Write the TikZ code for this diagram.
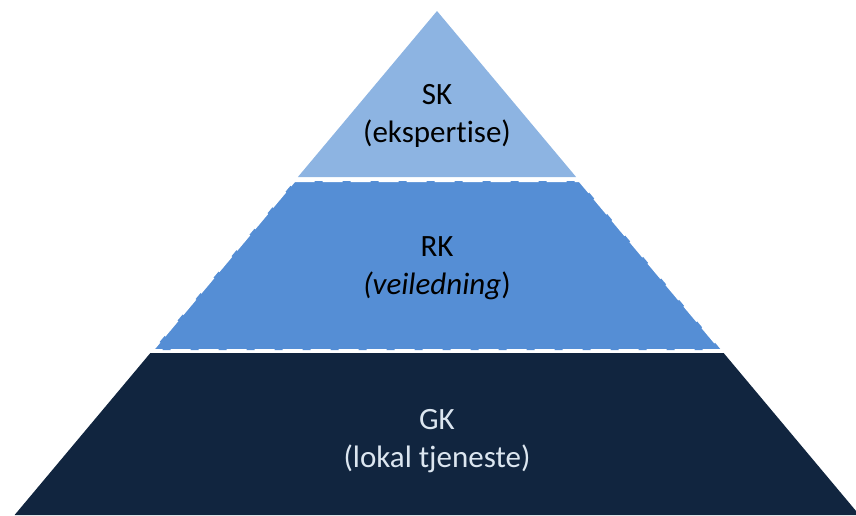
\documentclass[tikz,border=0pt]{standalone}
\usepackage{fontspec}
\setmainfont{Carlito}[Ligatures=NoCommon]
\usetikzlibrary{calc}
\definecolor{skblue}{HTML}{8DB4E2}
\definecolor{rkblue}{HTML}{558ED5}
\definecolor{gknavy}{HTML}{11253F}
\definecolor{gktext}{HTML}{DCE6F0}

\begin{document}
\begin{tikzpicture}[x=1pt, y=-1pt, every node/.style={font=\fontsize{31}{38}\selectfont}]
        \tikzstyle{tier} = [draw=none]
        \tikzstyle{label} = [align=center, inner sep=0pt]
        \useasboundingbox (0,0) rectangle (856,515);
        \coordinate (apex) at (437,11);
        \coordinate (baseL) at (14.6,515);
        \coordinate (baseR) at (859.4,515);
        % top tier
        \fill[tier, skblue] (apex) -- ($(apex)!0.3294!(baseR)$) -- ($(apex)!0.3294!(baseL)$) -- cycle;
        % middle tier
        \filldraw[tier, fill=rkblue, draw=white, line width=2pt, dash pattern=on 20pt off 8pt]
          ($(apex)!0.3373!(baseL)$) -- ($(apex)!0.3373!(baseR)$) -- ($(apex)!0.6726!(baseR)$) -- ($(apex)!0.6726!(baseL)$) -- cycle;
        % bottom tier
        \fill[tier, gknavy] ($(apex)!0.6786!(baseL)$) -- ($(apex)!0.6786!(baseR)$) -- (baseR) -- (baseL) -- cycle;
        \node[label] (SK) at (437,116) {SK\\(ekspertise)};
        \node[label] (RK) at (437,268) {RK\\\textit{(veiledning})};
        \node[label, text=gktext] (GK) at (437,441) {GK\\(lokal tjeneste)};
      \end{tikzpicture}
\end{document}
